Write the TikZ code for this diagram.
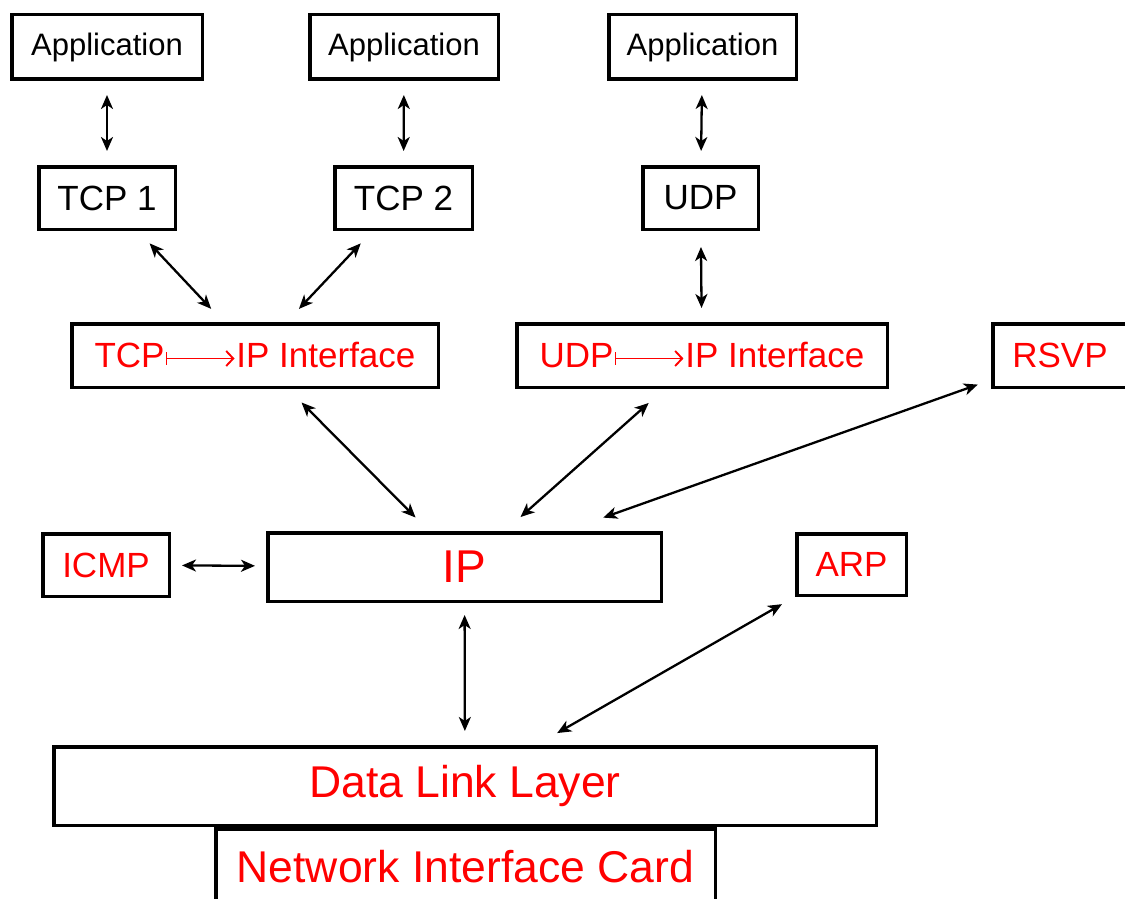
\documentclass[tikz,border=0pt]{standalone}
\usepackage{fontspec}
\setmainfont{Liberation Sans}
\usetikzlibrary{arrows.meta}
\newcommand\bx[7]{\node[box,#6,minimum width={#4pt-#2pt-3.5pt},minimum height={#5pt-#3pt-3.5pt}] (#1) at ({(#2+#4)/2},{(#3+#5)/2}) {#7};}
\newcommand\mapsarrow{\hspace{1pt}\tikz[x=1pt,y=1pt,baseline=0pt]{\draw[red,line width=1.9pt,-{Straight Barb[length=7pt,width=15pt]}] (0,9.5) -- (68,9.5); \draw[red,line width=1.9pt] (0,3) -- (0,16);}\hspace{1pt}}
\begin{document}
\begin{tikzpicture}[x=1pt,y=-1pt,
  box/.style={draw, line width=3.5pt, inner sep=0pt, fill=white},
  fa/.style={font=\fontsize{31pt}{31pt}\selectfont},
  fb/.style={font=\fontsize{35pt}{35pt}\selectfont},
  fr/.style={font=\fontsize{35pt}{35pt}\selectfont, text=red},
  fip/.style={font=\fontsize{46pt}{46pt}\selectfont, text=red},
  fl/.style={font=\fontsize{44.5pt}{44.5pt}\selectfont, text=red},
  link/.style={{Stealth[length=14pt,width=12pt,inset=4pt]}-{Stealth[length=14pt,width=12pt,inset=4pt]}, line width=2.3pt},
]
\useasboundingbox[fill=white] (0,0) rectangle (1125,899);
\bx{app1}{10}{13}{204}{81}{fa}{Application}
\bx{app2}{308}{13}{500}{81}{fa}{Application}
\bx{app3}{607}{13}{798}{81}{fa}{Application}
\bx{tcp1}{37}{165}{177}{231}{fb}{TCP 1}
\bx{tcp2}{333}{165}{474}{231}{fb}{TCP 2}
\bx{udp}{641}{165}{760}{231}{fb}{UDP}
\bx{tcpip}{70}{322}{440}{389}{fr}{TCP\mapsarrow IP Interface}
\bx{udpip}{515}{322}{889}{389}{fr}{UDP\mapsarrow IP Interface}
\bx{rsvp}{991}{322}{1129}{389}{fr}{RSVP}
\bx{icmp}{41}{532}{171}{598}{fr}{ICMP}
\bx{ip}{266}{531}{663}{603}{fip}{IP}
\bx{arp}{795}{532}{908}{597}{fr}{ARP}
\bx{dll}{52}{745}{878}{827}{fl}{Data Link Layer}
\bx{nic}{214}{827}{717}{906}{fl}{Network Interface Card}

\draw[link, shorten <=14pt, shorten >=14pt] (app1) -- (tcp1);
\draw[link, shorten <=14pt, shorten >=14pt] (app2) -- (tcp2);
\draw[link, shorten <=14pt, shorten >=14pt] (app3) -- (udp);
\draw[link, shorten <=17pt, shorten >=18pt] (tcp1) -- (tcpip);
\draw[link, shorten <=17pt, shorten >=18pt] (tcp2) -- (tcpip);
\draw[link, shorten <=16pt, shorten >=14pt] (udp) -- (udpip);
\draw[link, shorten <=19pt, shorten >=19pt] (tcpip) -- (ip);
\draw[link, shorten <=21pt, shorten >=21pt] (udpip) -- (ip);
\draw[link, shorten <=14pt, shorten >=40pt] (rsvp) -- (ip);
\draw[link, shorten <=11pt, shorten >=11pt] (icmp) -- (ip);
\draw[link, shorten <=12pt, shorten >=14pt] (ip) -- (dll);
\draw[link, shorten <=15pt, shorten >=24pt] (arp) -- (dll);
\end{tikzpicture}
\end{document}
